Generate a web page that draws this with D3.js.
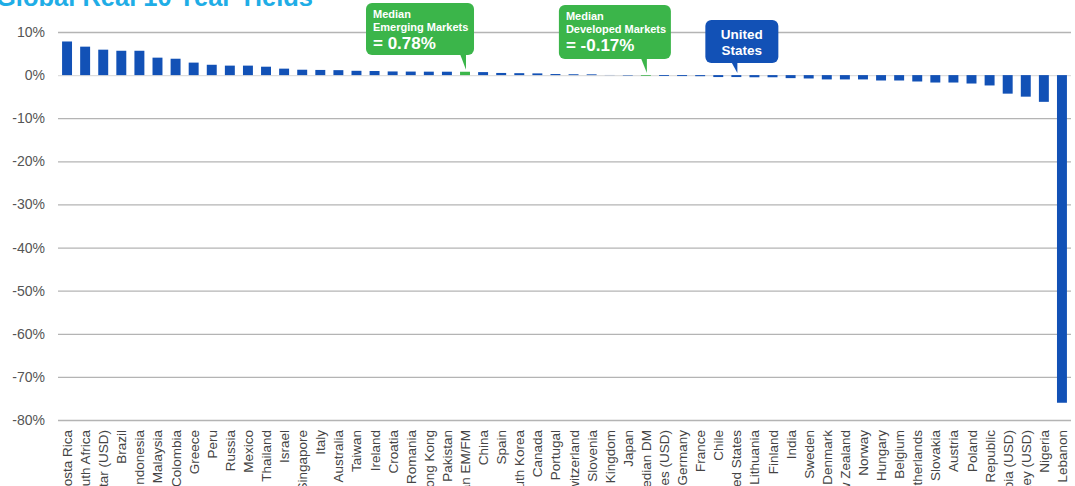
<!DOCTYPE html>
<html>
<head>
<meta charset="utf-8">
<script src="https://cdn.jsdelivr.net/npm/d3@7"></script>
<style>
  body { margin: 0; background: #fff; }
  svg { display: block; }
</style>
</head>
<body>
<div class="chart"></div>
<script>
let svgWidth = 1075;
let svgHeight = 486;

// data (real 10 year yields, %)
let countries = [
  "Costa Rica", "South Africa", "Qatar (USD)", "Brazil", "Indonesia", "Malaysia",
  "Colombia", "Greece", "Peru", "Russia", "Mexico", "Thailand", "Israel",
  "Singapore", "Italy", "Australia", "Taiwan", "Ireland", "Croatia", "Romania",
  "Hong Kong", "Pakistan", "Median EM/FM", "China", "Spain", "South Korea",
  "Canada", "Portugal", "Switzerland", "Slovenia", "United Kingdom", "Japan",
  "Median DM", "Philippines (USD)", "Germany", "France", "Chile", "United States",
  "Lithuania", "Finland", "India", "Sweden", "Denmark", "New Zealand", "Norway",
  "Hungary", "Belgium", "Netherlands", "Slovakia", "Austria", "Poland",
  "Czech Republic", "Ethiopia (USD)", "Turkey (USD)", "Nigeria", "Lebanon"
];

let yields = [
  7.8, 6.6, 5.9, 5.65, 5.65, 4.05,
  3.8, 2.9, 2.4, 2.2, 2.2, 1.95, 1.5,
  1.25, 1.2, 1.15, 1.0, 0.95, 0.85, 0.82,
  0.8, 0.79, 0.78, 0.7, 0.5, 0.45,
  0.4, 0.25, 0.2, 0.18, 0.03, -0.1,
  -0.17, -0.2, -0.22, -0.25, -0.45, -0.45,
  -0.5, -0.5, -0.7, -0.78, -1.0, -1.0, -1.0,
  -1.25, -1.25, -1.48, -1.72, -1.72, -1.95,
  -2.4, -4.3, -5.0, -6.2, -76.0
];

let medianNames = ["Median EM/FM", "Median DM"];
let yTicks = [10, 0, -10, -20, -30, -40, -50, -60, -70, -80];

let margin = { top: 32, right: 4, bottom: 66, left: 58 };
let width = svgWidth - margin.left - margin.right;
let height = svgHeight - margin.top - margin.bottom;

let blue = "#1251b6";
let green = "#3bb54a";

let svg = d3.select(".chart")
    .append("svg")
    .attr("width", svgWidth)
    .attr("height", svgHeight);

let data = countries.map((c, i) => ({ name: c, value: yields[i] }));

let xScale = d3.scaleBand()
    .domain(countries)
    .range([margin.left, margin.left + width])
    .paddingInner(0.45)
    .paddingOuter(0.225);

let yScale = d3.scaleLinear()
    .domain([-80, 10])
    .range([margin.top + height, margin.top]);

// title, cut off at the top edge like the source
svg.append("text")
    .attr("x", -4)
    .attr("y", 6)
    .attr("fill", "#1fade6")
    .style("font-family", "Liberation Sans, Arial, sans-serif")
    .style("font-weight", "bold")
    .style("font-size", "25.5px")
    .text("Global Real 10 Year Yields");

// gridlines + y labels
let yAxis = svg.append("g")
    .attr("transform", `translate(${margin.left}, 0)`)
    .call(d3.axisLeft(yScale)
        .tickValues(yTicks)
        .tickSize(-width)
        .tickFormat(d => d + "%"));

yAxis.select(".domain").remove();
yAxis.selectAll(".tick line")
    .attr("stroke", d => d === 0 ? "#dddddd" : "#b4b4b4")
    .attr("stroke-width", 1.3);
yAxis.selectAll(".tick text")
    .attr("x", -13)
    .attr("fill", "#555")
    .style("font-family", "Liberation Sans, Arial, sans-serif")
    .style("font-size", "14px");

// bars
svg.append("g")
    .selectAll("rect")
    .data(data)
    .enter()
    .append("rect")
    .attr("x", d => xScale(d.name))
    .attr("width", xScale.bandwidth())
    .attr("y", d => yScale(Math.max(0, d.value)))
    .attr("height", d => Math.abs(yScale(d.value) - yScale(0)))
    .attr("fill", d => medianNames.includes(d.name) ? green : blue);

// category labels
svg.append("g")
    .selectAll("text")
    .data(data)
    .enter()
    .append("text")
    .attr("transform", d => `translate(${xScale(d.name) + xScale.bandwidth() / 2 + 5}, 430) rotate(-90)`)
    .attr("text-anchor", "end")
    .attr("fill", "#444")
    .style("font-family", "Liberation Sans, Arial, sans-serif")
    .style("font-size", "13.5px")
    .text(d => d.name);

// callouts
function callout(name, boxLeft, boxTop, boxW, boxH, tailOff, fill, lines) {
    let cx = xScale(name) + xScale.bandwidth() / 2;
    let v = yields[countries.indexOf(name)];
    let tip = yScale(Math.max(0, v)) - 2;
    let bx = cx + boxLeft;
    let g = svg.append("g");
    g.append("rect")
        .attr("x", bx)
        .attr("y", boxTop)
        .attr("width", boxW)
        .attr("height", boxH)
        .attr("rx", 6)
        .attr("fill", fill);
    g.append("path")
        .attr("d", `M${cx + tailOff - 5},${boxTop + boxH - 1} L${cx + tailOff + 1},${boxTop + boxH - 1} L${cx + tailOff + 1},${tip} Z`)
        .attr("fill", fill);
    lines.forEach(l => {
        g.append("text")
            .attr("x", l.anchor === "middle" ? bx + boxW / 2 : bx + 7)
            .attr("y", boxTop + l.dy)
            .attr("text-anchor", l.anchor || "start")
            .attr("fill", "#fff")
            .style("font-family", "Liberation Sans, Arial, sans-serif")
            .style("font-weight", "bold")
            .style("font-size", l.size + "px")
            .text(l.t);
    });
}

callout("Median EM/FM", -99, 3, 108, 52, 0, green, [
    { t: "Median", dy: 15, size: 11 },
    { t: "Emerging Markets", dy: 28, size: 11 },
    { t: "= 0.78%", dy: 46, size: 17 }
]);

callout("Median DM", -87, 5, 112, 54, 0, green, [
    { t: "Median", dy: 15, size: 11 },
    { t: "Developed Markets", dy: 28, size: 11 },
    { t: "= -0.17%", dy: 46, size: 17 }
]);

callout("United States", -31, 20, 73, 43, 0, blue, [
    { t: "United", dy: 19, size: 13.5, anchor: "middle" },
    { t: "States", dy: 35, size: 13.5, anchor: "middle" }
]);
</script>
</body>
</html>
